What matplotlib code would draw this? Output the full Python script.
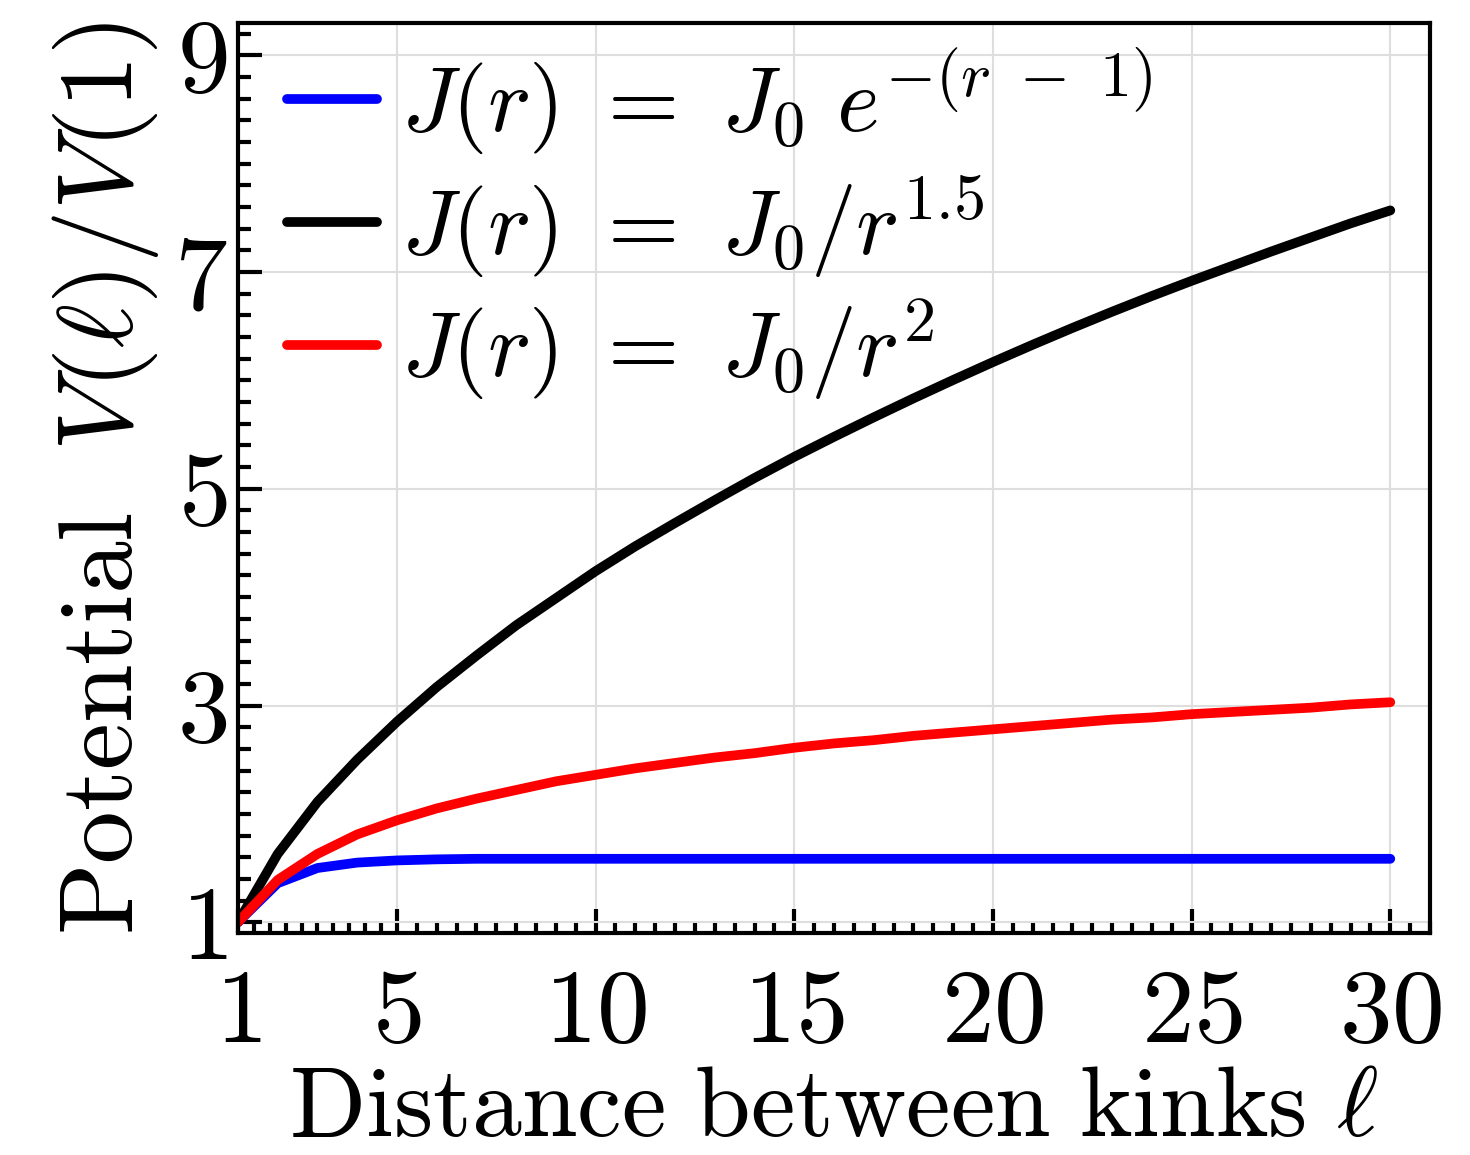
import numpy as np
import matplotlib.pyplot as plt
from matplotlib.ticker import FixedLocator, NullFormatter

plt.rcParams["font.family"] = "serif"
plt.rcParams["font.serif"] = ["cmr10", "DejaVu Serif"]
plt.rcParams["mathtext.fontset"] = "cm"
plt.rcParams["axes.unicode_minus"] = False

# distance between kinks
ell = list(range(1, 31))

# V(l)/V(1)
v_exp = [1.00, 1.36, 1.50, 1.55, 1.57, 1.58, 1.585, 1.585, 1.585, 1.585,
         1.585, 1.585, 1.585, 1.585, 1.585, 1.585, 1.585, 1.585, 1.585, 1.585,
         1.585, 1.585, 1.585, 1.585, 1.585, 1.585, 1.585, 1.585, 1.585, 1.585]
v_pow15 = [1.00, 1.63, 2.11, 2.50, 2.85, 3.17, 3.46, 3.74, 3.99, 4.24,
           4.47, 4.685, 4.895, 5.10, 5.295, 5.48, 5.66, 5.835, 6.005, 6.17,
           6.33, 6.485, 6.635, 6.78, 6.92, 7.055, 7.19, 7.32, 7.45, 7.57]
v_pow2 = [1.00, 1.39, 1.63, 1.81, 1.94, 2.05, 2.14, 2.22, 2.30, 2.36,
          2.42, 2.47, 2.52, 2.56, 2.61, 2.65, 2.68, 2.72, 2.75, 2.78,
          2.81, 2.84, 2.87, 2.89, 2.92, 2.94, 2.96, 2.98, 3.01, 3.03]

labels = [r"$J(r)\ =\ J_0\ e^{-(r\ -\ 1)}$",
          r"$J(r)\ =\ J_0/r^{1.5}$",
          r"$J(r)\ =\ J_0/r^{2}$"]
colors = ["#0000ff", "#000000", "#ff0000"]

xmajor = [1, 5, 10, 15, 20, 25, 30]
ymajor = [1, 3, 5, 7, 9]

fig = plt.figure(figsize=(14.7, 11.55), dpi=100)
ax = fig.add_axes([0.1619, 0.1922, 0.8109, 0.7879])

for y, c, lab in zip([v_exp, v_pow15, v_pow2], colors, labels):
    ax.plot(ell, y, color=c, lw=7, label=lab,
            solid_capstyle="round", solid_joinstyle="round")

ax.set_xlim(1, 31)
ax.set_ylim(0.9, 9.3)

# 10 subdivisions between major ticks
xm = xmajor + [35]
xminor = np.concatenate([np.linspace(a, b, 11)[1:-1] for a, b in zip(xm[:-1], xm[1:])])
ym = ymajor + [11]
yminor = np.concatenate([np.linspace(a, b, 11)[1:-1] for a, b in zip(ym[:-1], ym[1:])])

ax.xaxis.set_major_locator(FixedLocator(xmajor))
ax.yaxis.set_major_locator(FixedLocator(ymajor))
ax.xaxis.set_minor_locator(FixedLocator(xminor))
ax.yaxis.set_minor_locator(FixedLocator(yminor))
ax.xaxis.set_minor_formatter(NullFormatter())
ax.yaxis.set_minor_formatter(NullFormatter())
ax.set_xticklabels([f"${v}$" for v in xmajor])
ax.set_yticklabels([f"${v}$" for v in ymajor])

ax.tick_params(which="both", direction="in", top=False, right=False, width=3, color="black")
ax.tick_params(which="major", length=17)
ax.tick_params(which="minor", length=9)
ax.tick_params(axis="x", which="major", labelsize=76, pad=26)
ax.tick_params(axis="y", which="major", labelsize=76, pad=8)

for s in ax.spines.values():
    s.set_linewidth(3)

ax.grid(True, which="major", color="#dedede", lw=1.5)
ax.set_axisbelow(True)

ax.set_xlabel(r"$\mathrm{Distance\ between\ kinks}\ \ell$", fontsize=72, labelpad=3)
ax.set_ylabel(r"$\mathrm{Potential}\ \ V(\ell)/V(1)$", fontsize=76, labelpad=9)

ax.legend(loc="upper left", bbox_to_anchor=(0.041, 0.976), frameon=False, fontsize=66,
          handlelength=0.98, handletextpad=0.26, labelspacing=0.18, borderpad=0.0,
          borderaxespad=0.0)

fig.savefig("out.png", dpi=100)
